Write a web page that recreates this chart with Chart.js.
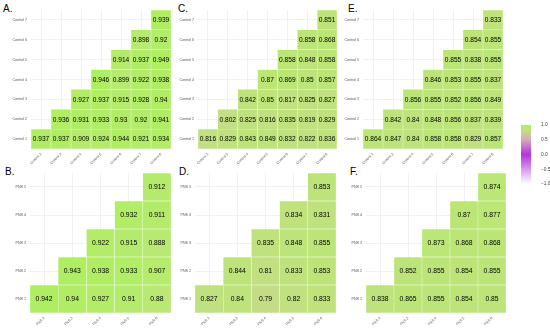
<!DOCTYPE html>
<html>
<head>
<meta charset="utf-8">
<script src="https://cdn.jsdelivr.net/npm/chart.js@4"></script>
<style>
  body { margin: 0; background: #fff; }
  #wrap { position: relative; width: 550px; height: 329px; overflow: hidden; font-family: "Liberation Sans", Arial, sans-serif; }
  .panel { position: absolute; }
  .tag { position: absolute; font-size: 10px; color: #000; }
</style>
</head>
<body>
<div id="wrap">
  <div class="tag" style="left:3px;top:3px">A.</div>
  <div class="tag" style="left:178px;top:3px">C.</div>
  <div class="tag" style="left:348px;top:3px">E.</div>
  <div class="tag" style="left:5px;top:166px">B.</div>
  <div class="tag" style="left:179px;top:166px">D.</div>
  <div class="tag" style="left:350px;top:166px">F.</div>
</div>
<script>
// axis labels
const controlRowLabels = ['Control 1', 'Control 2', 'Control 3', 'Control 4', 'Control 5', 'Control 6', 'Control 7'];
const controlColLabels = ['Control 2', 'Control 3', 'Control 4', 'Control 5', 'Control 6', 'Control 7', 'Control 8'];
const pnsRowLabels = ['PNS 1', 'PNS 2', 'PNS 3', 'PNS 4', 'PNS 5'];
const pnsColLabels = ['PNS 2', 'PNS 3', 'PNS 4', 'PNS 5', 'PNS 6'];

// upper triangle, row by row (row r starts at column r)
const panelA = [
    [0.937, 0.937, 0.909, 0.924, 0.944, 0.921, 0.934],
    [0.936, 0.931, 0.933, 0.93, 0.92, 0.941],
    [0.927, 0.937, 0.915, 0.928, 0.94],
    [0.946, 0.899, 0.922, 0.938],
    [0.914, 0.937, 0.949],
    [0.898, 0.92],
    [0.939]
];
const panelC = [
    [0.816, 0.829, 0.843, 0.849, 0.832, 0.822, 0.836],
    [0.802, 0.825, 0.816, 0.835, 0.819, 0.829],
    [0.842, 0.85, 0.817, 0.825, 0.827],
    [0.87, 0.869, 0.85, 0.857],
    [0.858, 0.848, 0.858],
    [0.858, 0.868],
    [0.851]
];
const panelE = [
    [0.864, 0.847, 0.84, 0.858, 0.858, 0.829, 0.857],
    [0.842, 0.84, 0.848, 0.856, 0.837, 0.839],
    [0.856, 0.855, 0.852, 0.856, 0.849],
    [0.846, 0.853, 0.855, 0.837],
    [0.855, 0.838, 0.855],
    [0.854, 0.855],
    [0.833]
];
const panelB = [
    [0.942, 0.94, 0.927, 0.91, 0.88],
    [0.943, 0.938, 0.933, 0.907],
    [0.922, 0.915, 0.888],
    [0.932, 0.911],
    [0.912]
];
const panelD = [
    [0.827, 0.84, 0.79, 0.82, 0.833],
    [0.844, 0.81, 0.833, 0.853],
    [0.835, 0.848, 0.855],
    [0.834, 0.831],
    [0.853]
];
const panelF = [
    [0.838, 0.865, 0.855, 0.854, 0.85],
    [0.852, 0.855, 0.854, 0.855],
    [0.873, 0.868, 0.868],
    [0.87, 0.877],
    [0.874]
];

const legendTicks = [-1, -0.5, 0, 0.5, 1];

// colour scale: white (-1) -> purple (0) -> green (1)
const colorStops = [
    [-1.0, [255, 255, 255]],
    [0.0, [178, 52, 222]],
    [0.5, [214, 170, 182]],
    [0.7, [204, 204, 150]],
    [0.8, [195, 222, 132]],
    [0.9, [183, 234, 112]],
    [1.0, [165, 242, 82]]
];

function colorFor(v) {
    for (let i = 1; i < colorStops.length; i++) {
        const [v1, c1] = colorStops[i];
        const [v0, c0] = colorStops[i - 1];
        if (v <= v1) {
            const t = (v - v0) / (v1 - v0);
            const c = c0.map((x, k) => Math.round(x + (c1[k] - x) * t));
            return 'rgb(' + c.join(',') + ')';
        }
    }
    return 'rgb(' + colorStops[colorStops.length - 1][1].join(',') + ')';
}

// writes the value in the middle of every cell
const cellText = {
    id: 'cellText',
    afterDatasetsDraw(chart) {
        const ctx = chart.ctx;
        const rows = chart.options.plugins.cellText.rows;
        ctx.save();
        ctx.fillStyle = '#000';
        ctx.font = chart.options.plugins.cellText.size + 'px "Liberation Sans", Arial, sans-serif';
        ctx.textAlign = 'center';
        ctx.textBaseline = 'middle';
        chart.data.datasets.forEach((ds, r) => {
            const meta = chart.getDatasetMeta(r);
            meta.data.forEach((el, c) => {
                if (ds.data[c] == null) return;
                const p = el.getCenterPoint();
                ctx.fillText(String(rows[r][c - r]), p.x, p.y + 0.5);
            });
        });
        ctx.restore();
    }
};

function makePanel(rows, rowLabels, colLabels, box) {
    const div = document.createElement('div');
    div.className = 'panel';
    div.style.left = box.left + 'px';
    div.style.top = box.top + 'px';
    div.style.width = box.width + 'px';
    div.style.height = box.height + 'px';
    const canvas = document.createElement('canvas');
    div.appendChild(canvas);
    document.getElementById('wrap').appendChild(div);

    const datasets = rows.map((row, r) => ({
        data: colLabels.map((_, c) => (c >= r ? [r + 0.5, r + 1.5] : null)),
        backgroundColor: (ctx) => colorFor(rows[r][ctx.dataIndex - r]),
        borderColor: 'rgba(255,255,255,0.35)',
        borderWidth: 0.5,
        borderSkipped: false,
        grouped: false,
        barPercentage: 1,
        categoryPercentage: 1
    }));

    new Chart(canvas, {
        type: 'bar',
        data: { labels: colLabels, datasets: datasets },
        options: {
            responsive: true,
            maintainAspectRatio: false,
            animation: false,
            layout: { padding: { top: box.padTop, right: 0, left: 0, bottom: 0 } },
            plugins: {
                legend: { display: false },
                tooltip: { enabled: false },
                cellText: { rows: rows, size: box.font }
            },
            scales: {
                x: {
                    grid: { offset: false, color: '#e8e8e8', lineWidth: 0.6, drawTicks: false },
                    border: { display: false },
                    ticks: {
                        autoSkip: false, minRotation: 45, maxRotation: 45, padding: 3,
                        color: '#555', font: { size: 3.6, family: '"Liberation Sans", Arial' }
                    },
                    afterFit: (s) => { s.height = box.xh; }
                },
                y: {
                    type: 'linear',
                    min: 0.5,
                    max: rowLabels.length + 0.5,
                    afterBuildTicks: (s) => { s.ticks = rowLabels.map((_, i) => ({ value: i + 1 })); },
                    grid: { color: '#e8e8e8', lineWidth: 0.6, drawTicks: false },
                    border: { display: false },
                    ticks: {
                        padding: 4,
                        color: '#555', font: { size: 3.6, family: '"Liberation Sans", Arial' },
                        callback: (v) => rowLabels[v - 1]
                    },
                    afterFit: (s) => { s.width = box.yw; }
                }
            }
        },
        plugins: [cellText]
    });
}

makePanel(panelA, controlRowLabels, controlColLabels, { left: 0, top: 0, width: 171, height: 166, yw: 31, xh: 17, padTop: 10, font: 6.6 });
makePanel(panelC, controlRowLabels, controlColLabels, { left: 175, top: 0, width: 162, height: 166, yw: 23, xh: 17, padTop: 10, font: 6.6 });
makePanel(panelE, controlRowLabels, controlColLabels, { left: 340, top: 0, width: 163, height: 166, yw: 23, xh: 17, padTop: 10, font: 6.6 });
makePanel(panelB, pnsRowLabels, pnsColLabels, { left: 0, top: 160, width: 171, height: 169, yw: 30, xh: 16, padTop: 13, font: 6.8 });
makePanel(panelD, pnsRowLabels, pnsColLabels, { left: 175, top: 160, width: 161, height: 169, yw: 20, xh: 16, padTop: 13, font: 6.8 });
makePanel(panelF, pnsRowLabels, pnsColLabels, { left: 346, top: 160, width: 160, height: 169, yw: 20, xh: 16, padTop: 13, font: 6.8 });

// colour bar legend
(function () {
    const div = document.createElement('div');
    div.className = 'panel';
    div.style.left = '514px';
    div.style.top = '118px';
    div.style.width = '36px';
    div.style.height = '71px';
    const canvas = document.createElement('canvas');
    div.appendChild(canvas);
    document.getElementById('wrap').appendChild(div);

    new Chart(canvas, {
        type: 'bar',
        data: {
            labels: ['r'],
            datasets: [{
                data: [[legendTicks[0], legendTicks[legendTicks.length - 1]]],
                barPercentage: 1,
                categoryPercentage: 1,
                backgroundColor: (ctx) => {
                    const chart = ctx.chart;
                    const y = chart.scales.y;
                    if (!chart.chartArea || !y) return '#ccc';
                    const g = chart.ctx.createLinearGradient(0, y.getPixelForValue(-1), 0, y.getPixelForValue(1));
                    for (let i = 0; i <= 20; i++) {
                        const v = -1 + i * 0.1;
                        g.addColorStop(i / 20, colorFor(v));
                    }
                    return g;
                }
            }]
        },
        options: {
            responsive: true,
            maintainAspectRatio: false,
            animation: false,
            layout: { padding: { top: 7, bottom: 0, left: 7, right: 0 } },
            plugins: { legend: { display: false }, tooltip: { enabled: false } },
            scales: {
                x: { display: false },
                y: {
                    position: 'right',
                    min: -1, max: 1,
                    afterBuildTicks: (s) => { s.ticks = legendTicks.map((v) => ({ value: v })); },
                    grid: { display: false },
                    border: { display: false },
                    ticks: {
                        padding: 2,
                        color: '#444', font: { size: 4.8, family: '"Liberation Sans", Arial' },
                        callback: (v) => v.toFixed(1).replace('-', '\u2212')
                    },
                    afterFit: (s) => { s.width = 19; }
                }
            }
        }
    });
})();
</script>
</body>
</html>
